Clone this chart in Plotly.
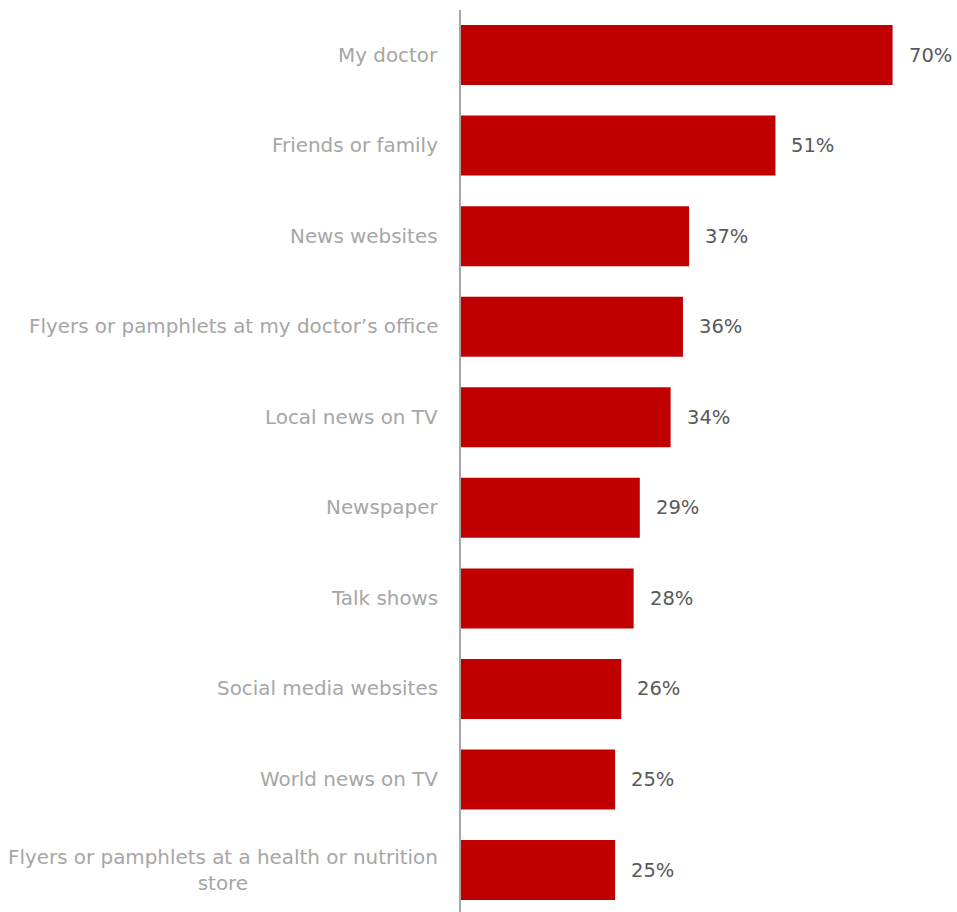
import plotly.graph_objects as go

categories = [
    "My doctor",
    "Friends or family",
    "News websites",
    "Flyers or pamphlets at my doctor’s office",
    "Local news on TV",
    "Newspaper",
    "Talk shows",
    "Social media websites",
    "World news on TV",
    "Flyers or pamphlets at a health or nutrition<br>store",
]
values = [70, 51, 37, 36, 34, 29, 28, 26, 25, 25]

BAR_COLOR = "#C00000"
LABEL_COLOR = "#A6A6A6"
VALUE_COLOR = "#595959"
FONT = "DejaVu Sans, Verdana, sans-serif"

positions = list(range(len(categories)))

fig = go.Figure(
    go.Bar(
        x=values,
        y=positions,
        orientation="h",
        marker=dict(color=BAR_COLOR, line=dict(width=0)),
        hoverinfo="skip",
    )
)

annotations = []
for pos, cat, val in zip(positions, categories, values):
    # category label to the left of the axis line
    annotations.append(dict(
        x=0, xref="paper", y=pos, yref="y",
        text=cat, showarrow=False, xanchor="right", yanchor="middle",
        align="center", xshift=-21,
        font=dict(family=FONT, size=19.9, color=LABEL_COLOR),
    ))
    # value label just past the end of the bar
    annotations.append(dict(
        x=val, xref="x", y=pos, yref="y",
        text=f"{val}%", showarrow=False, xanchor="left", yanchor="middle",
        xshift=14,
        font=dict(family=FONT, size=19.5, color=VALUE_COLOR),
    ))

fig.update_layout(
    width=957,
    height=912,
    margin=dict(l=461, r=4, t=10, b=0),
    paper_bgcolor="white",
    plot_bgcolor="white",
    showlegend=False,
    bargap=0.3375,
    annotations=annotations,
    xaxis=dict(
        range=[0, 79.8], showgrid=False, zeroline=False,
        showticklabels=False, showline=False, ticks="",
    ),
    yaxis=dict(
        range=[9.463, -0.497], showgrid=False, zeroline=False,
        showticklabels=False, ticks="",
        showline=True, linecolor=LABEL_COLOR, linewidth=2,
    ),
)

fig.write_html("out.html")
